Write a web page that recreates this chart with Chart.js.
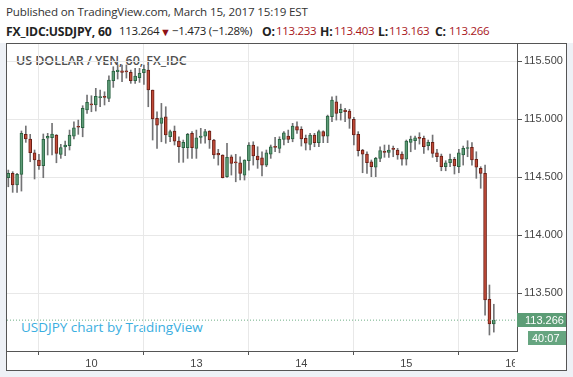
<!DOCTYPE html>
<html><head><meta charset="utf-8">
<script src="https://cdn.jsdelivr.net/npm/chart.js@4/dist/chart.umd.min.js"></script>
<style>
html,body{margin:0;padding:0;}
body{width:573px;height:377px;background:#eef1f6;position:relative;overflow:hidden;font-family:'Open Sans',sans-serif;}
#hdr{position:absolute;left:0;top:0;width:573px;height:43px;background:#fff;}
#l1{position:absolute;left:6px;top:4px;font-size:11.6px;color:#333;white-space:nowrap;letter-spacing:-0.15px;}
.s{position:absolute;top:23px;font-size:11.5px;color:#222;white-space:nowrap;letter-spacing:-0.3px;}
.b{font-weight:700;font-size:12.2px;top:22.5px;letter-spacing:-0.2px;}
.r{color:#a8161b;}
.tri{color:#8e1116;font-size:11px;top:24px;}
#frame{position:absolute;left:6px;top:43px;width:559px;height:326px;border:1px solid #555;background:#fff;}
#wm{position:absolute;left:16px;top:52px;font-size:12.5px;font-weight:600;color:#505050;white-space:nowrap;letter-spacing:-0.05px;}
#brand{position:absolute;left:21px;top:318px;font-size:13.5px;color:#3aaee0;white-space:nowrap;}
canvas{position:absolute;left:0;top:0;}
</style></head>
<body>
<div id="hdr">
<div id="l1">Published on TradingView.com, March 15, 2017 15:19 EST</div>
<span class="s b" style="left:6px">FX_IDC:USDJPY, 60</span>
<span class="s" style="left:119px">113.264</span>
<span class="s tri" style="left:160px">▼</span>
<span class="s" style="left:172px">−1.473 (−1.28%)</span>
<span class="s b" style="left:262px">O:</span><span class="s r" style="left:276px">113.233</span>
<span class="s b" style="left:320px">H:</span><span class="s r" style="left:334px">113.403</span>
<span class="s b" style="left:378px">L:</span><span class="s r" style="left:389px">113.163</span>
<span class="s b" style="left:435px">C:</span><span class="s r" style="left:449px">113.266</span>
</div>
<div id="frame"></div>
<div id="wm">US DOLLAR / YEN, 60, FX_IDC</div>
<div id="brand">USDJPY chart by TradingView</div>
<canvas id="c" width="573" height="377"></canvas>
<script>
const dayTickIndex = [19, 43, 67, 91, 115];
const dayTickLabels = ['10', '13', '14', '15', '16'];
const priceTicks = [113.5, 114.0, 114.5, 115.0, 115.5];

const open = [
114.494,114.532,114.431,114.523,114.868,114.828,114.709,114.647,114.597,114.834,
114.839,114.862,114.696,114.759,114.770,114.853,114.931,114.925,115.078,115.132,
115.121,115.184,115.196,115.178,115.330,115.408,115.416,115.409,115.403,115.330,
115.356,115.399,115.422,115.250,115.006,114.963,115.020,114.847,114.897,114.810,
114.753,114.753,114.877,114.747,114.842,114.853,114.897,114.819,114.704,114.690,
114.503,114.675,114.624,114.623,114.517,114.641,114.776,114.681,114.666,114.603,
114.698,114.757,114.747,114.825,114.853,114.828,114.934,114.911,114.834,114.782,
114.862,114.796,114.891,114.853,115.020,115.149,115.054,115.078,115.069,114.997,
114.868,114.733,114.698,114.632,114.584,114.661,114.718,114.713,114.740,114.733,
114.698,114.653,114.799,114.813,114.835,114.834,114.770,114.799,114.709,114.681,
114.589,114.623,114.653,114.589,114.690,114.746,114.756,114.653,114.575,114.532,
113.446,113.233];
const high = [
114.560,114.546,114.532,114.897,114.940,114.868,114.733,114.696,114.871,114.877,
114.963,114.866,114.782,114.810,114.905,114.977,114.991,115.115,115.207,115.201,
115.265,115.250,115.235,115.373,115.451,115.466,115.466,115.466,115.422,115.437,
115.437,115.466,115.466,115.250,115.063,115.135,115.106,114.905,114.940,114.847,
114.819,114.877,114.891,114.905,114.920,114.911,114.899,114.825,114.739,114.692,
114.791,114.690,114.696,114.675,114.649,114.796,114.804,114.761,114.718,114.733,
114.776,114.842,114.847,114.891,114.905,114.963,114.977,114.934,114.862,114.877,
114.877,114.905,114.899,115.034,115.192,115.198,115.129,115.092,115.084,115.015,
114.891,114.739,114.718,114.647,114.670,114.761,114.776,114.776,114.767,114.747,
114.718,114.819,114.853,114.853,114.882,114.853,114.819,114.862,114.739,114.698,
114.641,114.698,114.670,114.739,114.767,114.813,114.796,114.718,114.589,114.603,
113.569,113.403];
const low = [
114.416,114.368,114.368,114.379,114.799,114.632,114.483,114.566,114.494,114.690,
114.690,114.623,114.661,114.684,114.733,114.828,114.868,114.847,115.049,115.063,
115.069,115.106,115.121,115.149,115.273,115.345,115.322,115.353,115.308,115.308,
115.316,115.299,115.106,114.819,114.747,114.804,114.791,114.804,114.776,114.627,
114.627,114.661,114.661,114.661,114.791,114.791,114.747,114.661,114.603,114.492,
114.497,114.517,114.459,114.474,114.474,114.560,114.603,114.575,114.509,114.589,
114.661,114.718,114.709,114.776,114.796,114.804,114.877,114.767,114.733,114.733,
114.761,114.761,114.796,114.796,114.977,114.991,114.991,114.977,114.920,114.776,
114.681,114.537,114.532,114.503,114.503,114.632,114.670,114.670,114.675,114.653,
114.603,114.603,114.718,114.739,114.784,114.704,114.733,114.670,114.632,114.554,
114.554,114.589,114.526,114.537,114.603,114.675,114.603,114.489,114.403,113.310,
113.138,113.163];
const close = [
114.532,114.431,114.523,114.877,114.828,114.709,114.647,114.597,114.825,114.851,
114.871,114.704,114.753,114.776,114.862,114.925,114.929,115.092,115.144,115.121,
115.196,115.192,115.187,115.336,115.414,115.422,115.403,115.407,115.330,115.371,
115.394,115.428,115.250,115.000,114.948,115.011,114.862,114.891,114.810,114.761,
114.799,114.868,114.753,114.839,114.853,114.891,114.819,114.690,114.690,114.494,
114.670,114.618,114.622,114.532,114.647,114.776,114.681,114.647,114.603,114.709,
114.761,114.755,114.825,114.882,114.825,114.940,114.905,114.828,114.791,114.862,
114.796,114.891,114.853,115.026,115.164,115.049,115.084,115.063,115.006,114.862,
114.727,114.698,114.623,114.589,114.661,114.727,114.713,114.733,114.738,114.690,
114.653,114.810,114.828,114.839,114.833,114.761,114.799,114.704,114.675,114.589,
114.623,114.653,114.595,114.709,114.747,114.748,114.647,114.584,114.532,113.440,
113.233,113.266];
const countdown = '40:07';

const lastPrice = close[close.length - 1];
const X_MIN = -0.3, X_MAX = 116.3;
const UP_FILL = '#5e9c77', UP_LINE = '#2a6342';
const DN_FILL = '#c04a38', DN_LINE = '#6a1f16';

const isUp = open.map((o, i) => close[i] >= o);
const bodies = open.map((o, i) => ({x: i, y: [o, close[i]]}));
const wicks = open.map((o, i) => ({x: i, y: [low[i], high[i]]}));

const lastLabel = {
  id: 'lastLabel',
  afterDraw(chart) {
    const {ctx, chartArea, scales: {y}} = chart;
    const py = Math.round(y.getPixelForValue(lastPrice));
    const x0 = chartArea.right;
    ctx.save();
    ctx.fillStyle = '#ffffff';
    ctx.fillRect(x0 - 2, chartArea.bottom + 1, 50, 17);
    ctx.fillStyle = '#5c9d76';
    ctx.fillRect(x0, py - 7, 49, 14);
    ctx.fillStyle = '#ffffff';
    ctx.font = '11px "Liberation Sans", Arial, sans-serif';
    ctx.textBaseline = 'middle';
    ctx.textAlign = 'left';
    ctx.fillText(lastPrice.toFixed(3), x0 + 8, py + 0.5);
    ctx.fillStyle = '#66a580';
    ctx.fillRect(x0 + 11, py + 11, 38, 14);
    ctx.fillStyle = '#ffffff';
    ctx.fillText(countdown, x0 + 15, py + 18.5);
    ctx.restore();
  }
};

Chart.defaults.font.family = '"Liberation Sans", Arial, sans-serif';
new Chart(document.getElementById('c'), {
  type: 'bar',
  data: {
    datasets: [
      {
        type: 'line', data: [{x: X_MIN, y: lastPrice}, {x: X_MAX, y: lastPrice}],
        borderColor: '#6fae86', borderWidth: 1, borderDash: [1, 2], pointRadius: 0, order: 0
      },
      {
        data: bodies, backgroundColor: isUp.map(u => u ? UP_FILL : DN_FILL),
        borderColor: isUp.map(u => u ? UP_LINE : DN_LINE), borderWidth: 1, borderSkipped: false,
        barThickness: 3, minBarLength: 1, grouped: false, order: 1
      },
      {
        data: wicks, backgroundColor: '#737375', barThickness: 1, grouped: false, order: 2
      }
    ]
  },
  options: {
    responsive: false, animation: false,
    layout: {padding: {left: 7, top: 44, right: 7, bottom: 7}},
    plugins: {legend: {display: false}, tooltip: {enabled: false}},
    scales: {
      x: {
        type: 'linear', min: X_MIN, max: X_MAX, offset: false,
        grid: {color: '#e8e8e8', tickColor: '#555', tickLength: 4},
        border: {display: true, color: '#555'},
        ticks: {autoSkip: false, maxRotation: 0, padding: 2, color: '#444', font: {size: 11},
          callback: v => { const k = dayTickIndex.indexOf(v); return k >= 0 ? dayTickLabels[k] : ''; }},
        afterBuildTicks: s => { s.ticks = dayTickIndex.map(v => ({value: v})); },
        afterFit: s => { s.height = 19; }
      },
      y: {
        position: 'right', min: 113.0, max: 115.647,
        grid: {color: '#e8e8e8', tickColor: '#555', tickLength: 5},
        border: {display: true, color: '#555'},
        ticks: {padding: 2, color: '#444', font: {size: 11}, callback: v => Number(v).toFixed(3)},
        afterBuildTicks: s => { s.ticks = priceTicks.map(v => ({value: v})); },
        afterFit: s => { s.width = 49; }
      }
    }
  },
  plugins: [lastLabel]
});
</script>
</body></html>
